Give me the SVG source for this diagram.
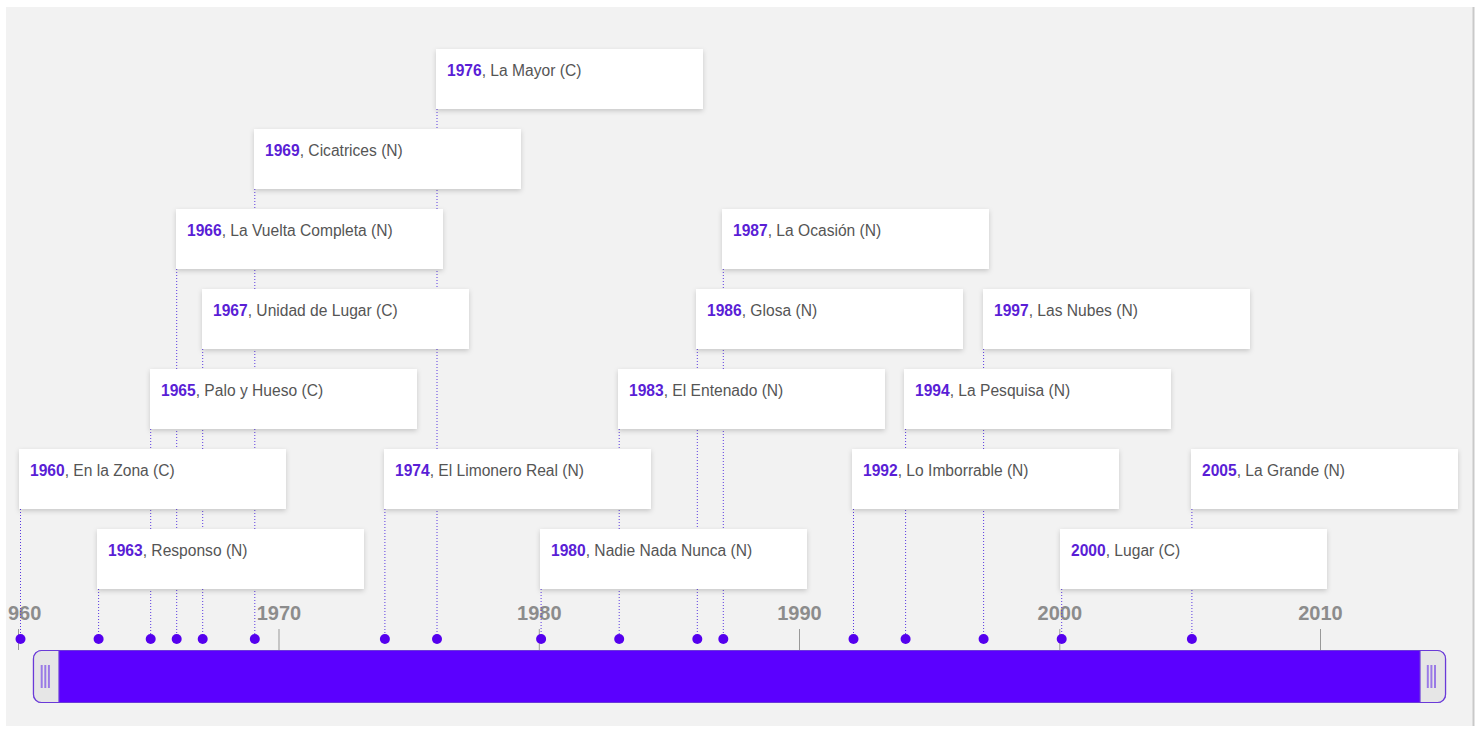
<svg xmlns="http://www.w3.org/2000/svg" width="1483" height="729" viewBox="0 0 1483 729">
<defs>
<style>
.card rect{fill:#fff;filter:url(#sh)}
.card text{font-family:"Liberation Sans",Arial,sans-serif;font-size:15.6px;fill:#555}
.card .yr{font-weight:bold;fill:#5a1ed6}
.conn line{stroke:#5a3ae0;stroke-width:1;stroke-dasharray:1 2}
.dot{fill:#5500ee}
.tick{stroke:#999;stroke-width:1}
.tl{font-family:"Liberation Sans",Arial,sans-serif;font-size:20px;font-weight:bold;fill:#8c8c8c;text-anchor:middle}
.grip{stroke:#9a7ae6;stroke-width:2}
</style>
<filter id="sh" x="-5%" y="-20%" width="110%" height="150%">
<feDropShadow dx="0" dy="2" stdDeviation="2.5" flood-color="#000" flood-opacity="0.18"/>
</filter>
<clipPath id="panel"><rect x="6" y="7" width="1467" height="719"/></clipPath>
</defs>
<rect width="1483" height="729" fill="#fff"/>
<rect x="6" y="7" width="1467" height="719" fill="#f2f2f2"/>
<rect x="1472.5" y="7" width="2" height="719" fill="#c9c9c9"/>
<g clip-path="url(#panel)">
<g id="axis">
<line class="tick" x1="18.5" y1="629" x2="18.5" y2="650"/>
<line class="tick" x1="279" y1="629" x2="279" y2="650"/>
<line class="tick" x1="539.3" y1="629" x2="539.3" y2="650"/>
<line class="tick" x1="799.5" y1="629" x2="799.5" y2="650"/>
<line class="tick" x1="1059.8" y1="629" x2="1059.8" y2="650"/>
<line class="tick" x1="1320.5" y1="629" x2="1320.5" y2="650"/>
<text class="tl" x="8" y="620" style="text-anchor:start">960</text>
<text class="tl" x="279" y="620">1970</text>
<text class="tl" x="539.3" y="620">1980</text>
<text class="tl" x="799.5" y="620">1990</text>
<text class="tl" x="1059.8" y="620">2000</text>
<text class="tl" x="1320.5" y="620">2010</text>
</g>
<g id="connectors" class="conn">
<line x1="20.5" y1="509" x2="20.5" y2="639"/>
<line x1="98.6" y1="589" x2="98.6" y2="639"/>
<line x1="150.7" y1="429" x2="150.7" y2="639"/>
<line x1="176.7" y1="269" x2="176.7" y2="639"/>
<line x1="202.7" y1="349" x2="202.7" y2="639"/>
<line x1="254.8" y1="189" x2="254.8" y2="639"/>
<line x1="384.9" y1="509" x2="384.9" y2="639"/>
<line x1="437" y1="109" x2="437" y2="639"/>
<line x1="541.1" y1="589" x2="541.1" y2="639"/>
<line x1="619.2" y1="429" x2="619.2" y2="639"/>
<line x1="697.3" y1="349" x2="697.3" y2="639"/>
<line x1="723.3" y1="269" x2="723.3" y2="639"/>
<line x1="853.5" y1="509" x2="853.5" y2="639"/>
<line x1="905.6" y1="429" x2="905.6" y2="639"/>
<line x1="983.6" y1="349" x2="983.6" y2="639"/>
<line x1="1061.7" y1="589" x2="1061.7" y2="639"/>
<line x1="1191.9" y1="509" x2="1191.9" y2="639"/>
</g>
<g id="dots">
<circle class="dot" cx="20.5" cy="639" r="5"/>
<circle class="dot" cx="98.6" cy="639" r="5"/>
<circle class="dot" cx="150.7" cy="639" r="5"/>
<circle class="dot" cx="176.7" cy="639" r="5"/>
<circle class="dot" cx="202.7" cy="639" r="5"/>
<circle class="dot" cx="254.8" cy="639" r="5"/>
<circle class="dot" cx="384.9" cy="639" r="5"/>
<circle class="dot" cx="437" cy="639" r="5"/>
<circle class="dot" cx="541.1" cy="639" r="5"/>
<circle class="dot" cx="619.2" cy="639" r="5"/>
<circle class="dot" cx="697.3" cy="639" r="5"/>
<circle class="dot" cx="723.3" cy="639" r="5"/>
<circle class="dot" cx="853.5" cy="639" r="5"/>
<circle class="dot" cx="905.6" cy="639" r="5"/>
<circle class="dot" cx="983.6" cy="639" r="5"/>
<circle class="dot" cx="1061.7" cy="639" r="5"/>
<circle class="dot" cx="1191.9" cy="639" r="5"/>
</g>
<g id="n1976" class="card"><rect x="436" y="49" width="267" height="60"/><text x="447" y="76"><tspan class="yr">1976</tspan>, La Mayor (C)</text></g>
<g id="n1969" class="card"><rect x="254" y="129" width="267" height="60"/><text x="265" y="156"><tspan class="yr">1969</tspan>, Cicatrices (N)</text></g>
<g id="n1966" class="card"><rect x="176" y="209" width="267" height="60"/><text x="187" y="236"><tspan class="yr">1966</tspan>, La Vuelta Completa (N)</text></g>
<g id="n1987" class="card"><rect x="722" y="209" width="267" height="60"/><text x="733" y="236"><tspan class="yr">1987</tspan>, La Ocasión (N)</text></g>
<g id="n1967" class="card"><rect x="202" y="289" width="267" height="60"/><text x="213" y="316"><tspan class="yr">1967</tspan>, Unidad de Lugar (C)</text></g>
<g id="n1986" class="card"><rect x="696" y="289" width="267" height="60"/><text x="707" y="316"><tspan class="yr">1986</tspan>, Glosa (N)</text></g>
<g id="n1997" class="card"><rect x="983" y="289" width="267" height="60"/><text x="994" y="316"><tspan class="yr">1997</tspan>, Las Nubes (N)</text></g>
<g id="n1965" class="card"><rect x="150" y="369" width="267" height="60"/><text x="161" y="396"><tspan class="yr">1965</tspan>, Palo y Hueso (C)</text></g>
<g id="n1983" class="card"><rect x="618" y="369" width="267" height="60"/><text x="629" y="396"><tspan class="yr">1983</tspan>, El Entenado (N)</text></g>
<g id="n1994" class="card"><rect x="904" y="369" width="267" height="60"/><text x="915" y="396"><tspan class="yr">1994</tspan>, La Pesquisa (N)</text></g>
<g id="n1960" class="card"><rect x="19" y="449" width="267" height="60"/><text x="30" y="476"><tspan class="yr">1960</tspan>, En la Zona (C)</text></g>
<g id="n1974" class="card"><rect x="384" y="449" width="267" height="60"/><text x="395" y="476"><tspan class="yr">1974</tspan>, El Limonero Real (N)</text></g>
<g id="n1992" class="card"><rect x="852" y="449" width="267" height="60"/><text x="863" y="476"><tspan class="yr">1992</tspan>, Lo Imborrable (N)</text></g>
<g id="n2005" class="card"><rect x="1191" y="449" width="267" height="60"/><text x="1202" y="476"><tspan class="yr">2005</tspan>, La Grande (N)</text></g>
<g id="n1963" class="card"><rect x="97" y="529" width="267" height="60"/><text x="108" y="556"><tspan class="yr">1963</tspan>, Responso (N)</text></g>
<g id="n1980" class="card"><rect x="540" y="529" width="267" height="60"/><text x="551" y="556"><tspan class="yr">1980</tspan>, Nadie Nada Nunca (N)</text></g>
<g id="n2000" class="card"><rect x="1060" y="529" width="267" height="60"/><text x="1071" y="556"><tspan class="yr">2000</tspan>, Lugar (C)</text></g>
<g id="slider">
<rect x="33.5" y="650.5" width="1412" height="52" rx="8" fill="#5b00ff" stroke="#6a3ad8" stroke-width="1.2"/>
<path d="M59 650.5 H41.5 A8 8 0 0 0 33.5 658.5 V694.5 A8 8 0 0 0 41.5 702.5 H59 Z" fill="#e6e6e6" stroke="#6a3ad8" stroke-width="1.2"/>
<path d="M1420 650.5 H1437.5 A8 8 0 0 1 1445.5 658.5 V694.5 A8 8 0 0 1 1437.5 702.5 H1420 Z" fill="#e6e6e6" stroke="#6a3ad8" stroke-width="1.2"/>
<line class="grip" x1="41.7" y1="665" x2="41.7" y2="688"/>
<line class="grip" x1="45.3" y1="665" x2="45.3" y2="688"/>
<line class="grip" x1="48.9" y1="665" x2="48.9" y2="688"/>
<line class="grip" x1="1427.8" y1="665" x2="1427.8" y2="688"/>
<line class="grip" x1="1431.4" y1="665" x2="1431.4" y2="688"/>
<line class="grip" x1="1435" y1="665" x2="1435" y2="688"/>
</g>
</g>
</svg>
